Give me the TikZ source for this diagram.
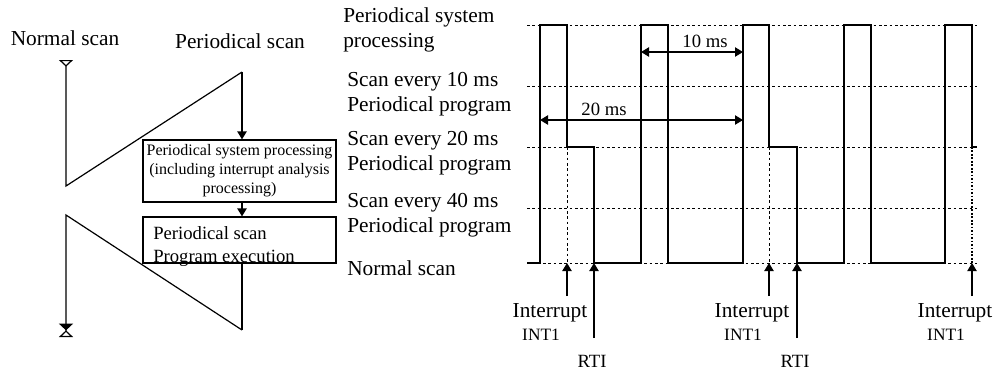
\documentclass[tikz,border=0pt]{standalone}
\usepackage{fontspec}
\setmainfont{Liberation Serif}
\usetikzlibrary{arrows.meta}

\begin{document}
\begin{tikzpicture}[
  x=0.75pt, y=-0.75pt,
  lbl/.style={font=\fontsize{16}{18.75}\selectfont, inner sep=0pt},
  small/.style={font=\fontsize{13}{15}\selectfont, inner sep=0pt},
  box/.style={draw, line width=0.9pt, minimum width=144.75pt, inner sep=0pt},
  arr/.style={-{Triangle[width=7pt,length=6pt]}, line width=0.9pt},
  dim/.style={{Triangle[width=7pt,length=6pt]}-{Triangle[width=7pt,length=6pt]}, line width=0.9pt},
  gridline/.style={dash pattern=on 2pt off 2pt, line width=0.6pt},
  wave/.style={line width=1pt}
]
  \useasboundingbox (0,0) rectangle (994,372);

  % left: scan flow
  \node[lbl] (nscan) at (65,38) {Normal scan};
  \node[lbl] (pscan) at (240,41) {Periodical scan};

  \node[box, minimum height=46.5pt, align=center,
        font=\fontsize{12}{14.25}\selectfont] (sysbox) at (239.5,171)
       {Periodical system processing\\(including interrupt analysis\\processing)};
  \node[box, minimum height=34.5pt] (execbox) at (239.5,240) {};
  \node[lbl, font=\fontsize{14}{17.25}\selectfont, anchor=west, align=left]
       (exectext) at (153,247) {Periodical scan\\Program execution};

  \coordinate (ntop) at (66,60);
  \coordinate (nmid) at (66,186);
  \coordinate (nlow) at (66,215);
  \coordinate (nbot) at (66,337);
  \coordinate (ptop) at (242,72);
  \coordinate (pbot) at (242,330);

  \draw[{Triangle[open,reversed,width=10.5pt,length=5pt]}-, line width=0.9pt]
    (ntop) -- (nmid) -- (ptop);
  \draw[arr] (ptop) -- (ptop |- sysbox.north);
  \draw[arr] (sysbox.south -| ptop) -- (execbox.north -| ptop);
  \draw[line width=0.9pt] (execbox.south -| ptop) -- (pbot);
  \draw[-{Triangle[width=10.5pt,length=5pt] Triangle[open,reversed,width=10.5pt,length=5pt]},
        line width=0.9pt] (pbot) -- (nlow) -- (nbot);

  % right: timing chart
  \node[lbl, anchor=west, align=left] (lsys) at (343,29.5) {Periodical system\\processing};
  \node[lbl, anchor=west, align=left] (l10) at (347,94) {Scan every 10 ms\\Periodical program};
  \node[lbl, anchor=west, align=left] (l20) at (347,153.5) {Scan every 20 ms\\Periodical program};
  \node[lbl, anchor=west, align=left] (l40) at (347,215) {Scan every 40 ms\\Periodical program};
  \node[lbl, anchor=west] (lnorm) at (347,268) {Normal scan};

  \foreach \y in {25,86,147,208,263}
    \draw[gridline] (527,\y) -- (977,\y);
  \draw[gridline] (567,147) -- (567,263);
  \draw[gridline] (769,147) -- (769,263);
  \draw[dash pattern=on 1.3pt off 1.3pt, line width=1pt] (972,147) -- (972,263);

  \draw[wave] (527,263) -- (540,263) -- (540,25) -- (567,25) -- (567,147)
    -- (594,147) -- (594,263) -- (641,263) -- (641,25) -- (668,25)
    -- (668,263) -- (743,263) -- (743,25) -- (769,25) -- (769,147)
    -- (797,147) -- (797,263) -- (844,263) -- (844,25) -- (871,25)
    -- (871,263) -- (945,263) -- (945,25) -- (972,25) -- (972,147) -- (977,147);

  \coordinate (d10a) at (641,52);
  \coordinate (d10b) at (743,52);
  \draw[dim] (d10a) -- (d10b);
  \node[lbl, font=\fontsize{14}{16}\selectfont] (t10) at (705,41) {10 ms};
  \coordinate (d20a) at (540,120);
  \coordinate (d20b) at (743,120);
  \draw[dim] (d20a) -- (d20b);
  \node[lbl, font=\fontsize{14}{16}\selectfont] (t20) at (604,109) {20 ms};

  \foreach \x/\n in {567/1,769/2,972/3}{
    \coordinate (int\n) at (\x,263);
    \coordinate (intfoot\n) at (\x,296);
    \draw[arr] (intfoot\n) -- (int\n);
    \node[lbl] (intlbl\n) at (\x-17,313) {Interrupt};
    \node[small] (intname\n) at (\x-26,335) {INT1};
  }
  \foreach \x/\n in {594/1,797/2}{
    \coordinate (rti\n) at (\x,263);
    \coordinate (rtifoot\n) at (\x,338);
    \draw[arr] (rtifoot\n) -- (rti\n);
    \node[lbl, font=\fontsize{14}{16}\selectfont] (rtilbl\n) at (\x-2,361) {RTI};
  }
\end{tikzpicture}
\end{document}
